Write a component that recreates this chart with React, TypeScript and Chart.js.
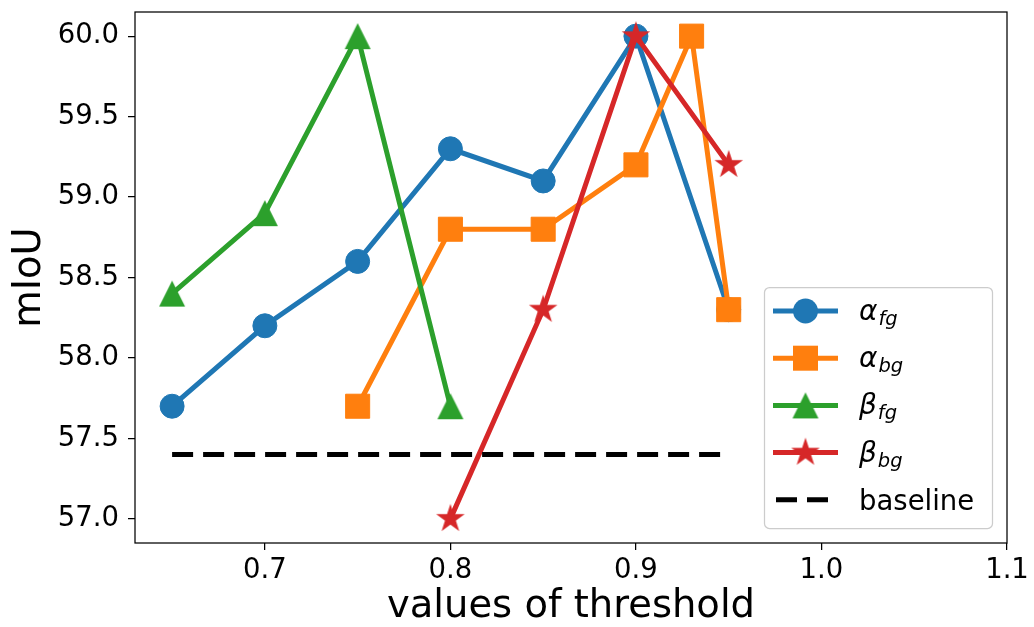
import { useEffect, useRef } from 'react';
import { Chart, registerables } from 'chart.js';

Chart.register(...registerables);

// ---- data ----
const alphaFgX = [0.65, 0.7, 0.75, 0.8, 0.85, 0.9, 0.95];
const alphaFgY = [57.7, 58.2, 58.6, 59.3, 59.1, 60.0, 58.3];
const alphaBgX = [0.75, 0.8, 0.85, 0.9, 0.93, 0.95];
const alphaBgY = [57.7, 58.8, 58.8, 59.2, 60.0, 58.3];
const betaFgX = [0.65, 0.7, 0.75, 0.8];
const betaFgY = [58.4, 58.9, 60.0, 57.7];
const betaBgX = [0.8, 0.85, 0.9, 0.95];
const betaBgY = [57.0, 58.3, 60.0, 59.2];
const baselineX = [0.65, 0.95];
const baselineY = [57.4, 57.4];

const xTicks = [0.7, 0.8, 0.9, 1.0, 1.1];
const yTicks = [57.0, 57.5, 58.0, 58.5, 59.0, 59.5, 60.0];

const legendGreek = ['α', 'α', 'β', 'β'];
const legendSub = ['fg', 'bg', 'fg', 'bg'];
const baselineLabel = 'baseline';
const xTitle = 'values of threshold';
const yTitle = 'mIoU';

const BLUE = '#1f77b4';
const ORANGE = '#ff7f0e';
const GREEN = '#2ca02c';
const RED = '#d62728';
const FONT = "'DejaVu Sans', sans-serif";
const DASH = [21, 10];

const pts = (xs: number[], ys: number[]) => xs.map((x, i) => ({ x, y: ys[i] }));

function makeTriangle(color: string, w: number) {
  const c = document.createElement('canvas');
  c.width = w + 2;
  c.height = w + 2;
  const g = c.getContext('2d')!;
  g.fillStyle = color;
  g.beginPath();
  g.moveTo(1 + w / 2, 1);
  g.lineTo(1, 1 + w);
  g.lineTo(1 + w, 1 + w);
  g.closePath();
  g.fill();
  return c;
}

function makeStar(color: string, R: number) {
  const size = Math.ceil(2 * R + 2);
  const c = document.createElement('canvas');
  c.width = size;
  c.height = size;
  const g = c.getContext('2d')!;
  const cx = size / 2;
  const cy = size / 2;
  const r = R * 0.381966;
  g.fillStyle = color;
  g.beginPath();
  for (let i = 0; i < 10; i++) {
    const rad = i % 2 === 0 ? R : r;
    const a = -Math.PI / 2 + (i * Math.PI) / 5;
    const px = cx + rad * Math.cos(a);
    const py = cy + rad * Math.sin(a);
    if (i === 0) g.moveTo(px, py);
    else g.lineTo(px, py);
  }
  g.closePath();
  g.fill();
  return c;
}

export default function App() {
  const ref = useRef<HTMLCanvasElement | null>(null);

  useEffect(() => {
    document.body.style.margin = '0';
    const canvas = ref.current!;
    const triImg = makeTriangle(GREEN, 26);
    const starImg = makeStar(RED, 15);

    const framePlugin = {
      id: 'frame',
      afterDatasetsDraw(chart: any) {
        const { ctx, chartArea: ca } = chart;
        ctx.save();
        ctx.strokeStyle = '#000';
        ctx.lineWidth = 1.25;
        ctx.strokeRect(ca.left, ca.top, ca.right - ca.left, ca.bottom - ca.top);
        ctx.restore();
      },
    };

    const legendPlugin = {
      id: 'customLegend',
      afterDraw(chart: any) {
        const { ctx, chartArea: ca } = chart;
        const boxW = 228;
        const boxH = 241;
        const x0 = ca.right - 15 - boxW;
        const y0 = ca.bottom - 15 - boxH;
        ctx.save();
        ctx.beginPath();
        ctx.roundRect(x0 + 0.5, y0 + 0.5, boxW, boxH, 5);
        ctx.fillStyle = 'rgba(255,255,255,0.8)';
        ctx.fill();
        ctx.strokeStyle = '#cccccc';
        ctx.lineWidth = 1.25;
        ctx.stroke();

        const colors = [BLUE, ORANGE, GREEN, RED];
        const lx0 = x0 + 9;
        const lx1 = x0 + 74;
        const mx = (lx0 + lx1) / 2;
        const tx = x0 + 95;
        for (let i = 0; i < 5; i++) {
          const cy = y0 + 24 + i * 47.2;
          if (i < 4) {
            ctx.strokeStyle = colors[i];
            ctx.lineWidth = 5;
            ctx.lineCap = 'butt';
            ctx.setLineDash([]);
            ctx.beginPath();
            ctx.moveTo(lx0, cy);
            ctx.lineTo(lx1, cy);
            ctx.stroke();
            ctx.fillStyle = colors[i];
            if (i === 0) {
              ctx.beginPath();
              ctx.arc(mx, cy, 12.5, 0, Math.PI * 2);
              ctx.fill();
            } else if (i === 1) {
              ctx.fillRect(mx - 12.5, cy - 12.5, 25, 25);
            } else if (i === 2) {
              ctx.drawImage(triImg, mx - triImg.width / 2, cy - triImg.height / 2);
            } else {
              ctx.drawImage(starImg, mx - starImg.width / 2, cy - starImg.height / 2);
            }
            ctx.fillStyle = '#000';
            ctx.textBaseline = 'alphabetic';
            ctx.textAlign = 'left';
            ctx.font = `italic 28px ${FONT}`;
            ctx.fillText(legendGreek[i], tx, cy + 9);
            const gw = ctx.measureText(legendGreek[i]).width;
            ctx.font = `italic 19.5px ${FONT}`;
            ctx.fillText(legendSub[i], tx + gw + 1, cy + 14);
          } else {
            ctx.strokeStyle = '#000';
            ctx.lineWidth = 5;
            ctx.lineCap = 'butt';
            ctx.setLineDash(DASH);
            ctx.beginPath();
            ctx.moveTo(lx0 + 3, cy);
            ctx.lineTo(lx1, cy);
            ctx.stroke();
            ctx.setLineDash([]);
            ctx.fillStyle = '#000';
            ctx.textBaseline = 'alphabetic';
            ctx.textAlign = 'left';
            ctx.font = `27.5px ${FONT}`;
            ctx.fillText(baselineLabel, tx, cy + 10);
          }
        }
        ctx.restore();
      },
    };

    const xTickFont = { family: FONT, size: 27.5 };
    const yTickFont = { family: FONT, size: 27.5 };
    const titleFont = { family: FONT, size: 38.5, lineHeight: 1 };

    const chart = new Chart(canvas, {
      type: 'line',
      data: {
        datasets: [
          {
            label: 'alpha_fg',
            data: pts(alphaFgX, alphaFgY),
            borderColor: BLUE,
            backgroundColor: BLUE,
            borderWidth: 5,
            pointStyle: 'circle',
            pointRadius: 12,
            pointBorderWidth: 1,
            pointBorderColor: BLUE,
            pointBackgroundColor: BLUE,
            order: 5,
          },
          {
            label: 'alpha_bg',
            data: pts(alphaBgX, alphaBgY),
            borderColor: ORANGE,
            backgroundColor: ORANGE,
            borderWidth: 5,
            pointStyle: 'rect',
            pointRadius: 17,
            pointBorderWidth: 1,
            pointBorderColor: ORANGE,
            pointBackgroundColor: ORANGE,
            order: 4,
          },
          {
            label: 'beta_fg',
            data: pts(betaFgX, betaFgY),
            borderColor: GREEN,
            backgroundColor: GREEN,
            borderWidth: 5,
            pointStyle: triImg as any,
            pointRadius: 13,
            order: 3,
          },
          {
            label: 'beta_bg',
            data: pts(betaBgX, betaBgY),
            borderColor: RED,
            backgroundColor: RED,
            borderWidth: 5,
            pointStyle: starImg as any,
            pointRadius: 15,
            order: 2,
          },
          {
            label: 'baseline',
            data: pts(baselineX, baselineY),
            borderColor: '#000',
            backgroundColor: '#000',
            borderWidth: 5,
            borderDash: DASH,
            borderCapStyle: 'butt',
            pointRadius: 0,
            order: 1,
          },
        ],
      },
      options: {
        animation: false,
        responsive: false,
        maintainAspectRatio: false,
        events: [],
        layout: { autoPadding: false, padding: { left: 0, right: 27, top: 12, bottom: 0 } },
        elements: { line: { tension: 0, fill: false } },
        plugins: { legend: { display: false }, tooltip: { enabled: false } },
        scales: {
          x: {
            type: 'linear',
            min: 0.63,
            max: 1.1,
            afterBuildTicks: (s: any) => {
              s.ticks = xTicks.map((v) => ({ value: v }));
            },
            afterFit: (s: any) => {
              s.height = 84;
              s.paddingLeft = 0;
              s.paddingRight = 0;
            },
            border: { display: false },
            grid: {
              display: true,
              drawOnChartArea: false,
              drawTicks: true,
              tickLength: 7,
              color: '#000',
              lineWidth: 1.25,
            },
            ticks: {
              color: '#000',
              font: xTickFont,
              padding: 4,
              maxRotation: 0,
              autoSkip: false,
              callback: (v: any) => Number(v).toFixed(1),
            },
            title: {
              display: true,
              text: xTitle,
              color: '#000',
              font: titleFont,
              padding: { top: 0, bottom: 1 },
            },
          },
          y: {
            type: 'linear',
            min: 56.85,
            max: 60.15,
            afterBuildTicks: (s: any) => {
              s.ticks = yTicks.map((v) => ({ value: v }));
            },
            afterFit: (s: any) => {
              s.width = 135;
              s.paddingTop = 0;
              s.paddingBottom = 0;
            },
            border: { display: false },
            grid: {
              display: true,
              drawOnChartArea: false,
              drawTicks: true,
              tickLength: 7,
              color: '#000',
              lineWidth: 1.25,
            },
            ticks: {
              color: '#000',
              font: yTickFont,
              padding: 9,
              autoSkip: false,
              callback: (v: any) => Number(v).toFixed(1),
            },
            title: {
              display: true,
              text: yTitle,
              color: '#000',
              font: titleFont,
              padding: { top: 11, bottom: 0 },
            },
          },
        },
      },
      plugins: [framePlugin, legendPlugin],
    } as any);

    return () => chart.destroy();
  }, []);

  return (
    <div style={{ width: 1034, height: 627, position: 'relative', background: '#fff' }}>
      <canvas ref={ref} width={1034} height={627} style={{ display: 'block', width: 1034, height: 627 }} />
    </div>
  );
}
